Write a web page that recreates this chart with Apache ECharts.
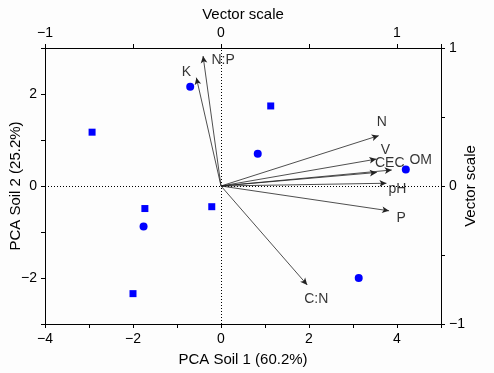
<!DOCTYPE html>
<html>
<head>
<meta charset="utf-8">
<script src="https://cdn.jsdelivr.net/npm/echarts@6/dist/echarts.min.js"></script>
<style>html,body{margin:0;padding:0;background:#fff;}#c{width:494px;height:373px;}</style>
</head>
<body>
<div id="c"></div>
<script>
// ---- data ----
const squaresX = [-2.93, -1.73, -0.21, -2.00, 1.13];
const squaresY = [1.17, -0.49, -0.45, -2.34, 1.74];
const circlesX = [-1.76, -0.70, 0.835, 4.20, 3.13];
const circlesY = [-0.88, 2.16, 0.70, 0.36, -2.00];
const vectorNames = ['N:P', 'K', 'N', 'V', 'CEC', 'OM', 'pH', 'P', 'C:N'];
const vectorX = [-0.102, -0.140, 0.896, 0.883, 0.885, 0.970, 0.940, 0.955, 0.490];
const vectorY = [0.942, 0.785, 0.365, 0.195, 0.098, 0.116, 0.020, -0.180, -0.717];
const bottomTickLabels = [-4, -2, 0, 2, 4];
const leftTickLabels = [-2, 0, 2];
const topTickLabels = [-1, 0, 1];
const rightTickLabels = [-1, 0, 1];

// ---- styling (label offsets in px) ----
const labelOffsets = {
  'N:P': [20, 4], 'K': [-10, -6], 'N': [3, -13], 'V': [9, -9],
  'CEC': [13, -9], 'OM': [29, -10], 'pH': [11, 6], 'P': [12, 7], 'C:N': [9, 14]
};

const font = 'Liberation Sans, Arial, sans-serif';
const fmt = (list) => (v) => list.some(t => Math.abs(t - v) < 1e-9) ? String(v).replace('-', '\u2212') : '';

function axisBase(list) {
  return {
    axisLine: { show: true, onZero: false, lineStyle: { color: '#000', width: 1 } },
    axisTick: { show: true, length: 4, lineStyle: { color: '#000' } },
    splitLine: { show: false },
    axisLabel: { formatter: fmt(list), color: '#000', fontSize: 14, fontFamily: font, showMaxLabel: true, showMinLabel: true, hideOverlap: false },
    nameTextStyle: { color: '#000', fontSize: 15, fontFamily: font },
    nameLocation: 'middle',
    nameMoveOverlap: false
  };
}

const chart = echarts.init(document.getElementById('c'));
chart.setOption({
  backgroundColor: '#fdfdfd',
  animation: false,
  grid: { left: 45, right: 53, top: 48, bottom: 49, containLabel: false, outerBoundsMode: 'none' },
  xAxis: [
    Object.assign(axisBase(bottomTickLabels), { type: 'value', position: 'bottom', min: -4, max: 5, interval: 1, name: 'PCA Soil 1 (60.2%)', nameGap: 28 }),
    Object.assign(axisBase(topTickLabels), { type: 'value', position: 'top', min: -1, max: 1.25, interval: 0.5, name: 'Vector scale', nameGap: 26 })
  ],
  yAxis: [
    Object.assign(axisBase(leftTickLabels), { type: 'value', position: 'left', min: -3, max: 3, interval: 1, name: 'PCA Soil 2 (25.2%)', nameGap: 22 }),
    Object.assign(axisBase(rightTickLabels), { type: 'value', position: 'right', min: -1, max: 1, interval: 0.5, name: 'Vector scale', nameGap: 22, nameRotate: 90 })
  ],
  series: [
    {
      type: 'scatter', xAxisIndex: 0, yAxisIndex: 0, symbol: 'circle', symbolSize: 8,
      itemStyle: { color: '#0000ff', opacity: 1 }, silent: true,
      data: circlesX.map((x, i) => [x, circlesY[i]]),
      markLine: {
        silent: true, symbol: ['none', 'none'], label: { show: false },
        lineStyle: { type: [1, 2], color: '#000', width: 1 },
        data: [{ xAxis: 0 }, { yAxis: 0 }]
      },
      z: 5
    },
    {
      type: 'scatter', xAxisIndex: 0, yAxisIndex: 0, symbol: 'rect', symbolSize: 7,
      itemStyle: { color: '#0000ff', opacity: 1 }, silent: true,
      data: squaresX.map((x, i) => [x, squaresY[i]]), z: 5
    },
    {
      type: 'scatter', xAxisIndex: 1, yAxisIndex: 1, symbolSize: 0, silent: true,
      data: vectorNames.map((n, i) => ({
        name: n, value: [vectorX[i], vectorY[i]],
        label: { show: true, position: 'inside', formatter: n, offset: labelOffsets[n], color: '#000', fontSize: 14, fontFamily: font }
      })),
      markLine: {
        silent: true, symbol: ['none', 'arrow'], symbolSize: [5, 7], label: { show: false },
        lineStyle: { type: 'solid', color: '#222', width: 0.8 },
        data: vectorNames.map((n, i) => [{ coord: [0, 0] }, { coord: [vectorX[i], vectorY[i]] }])
      },
      z: 4
    }
  ]
});
</script>
</body>
</html>
